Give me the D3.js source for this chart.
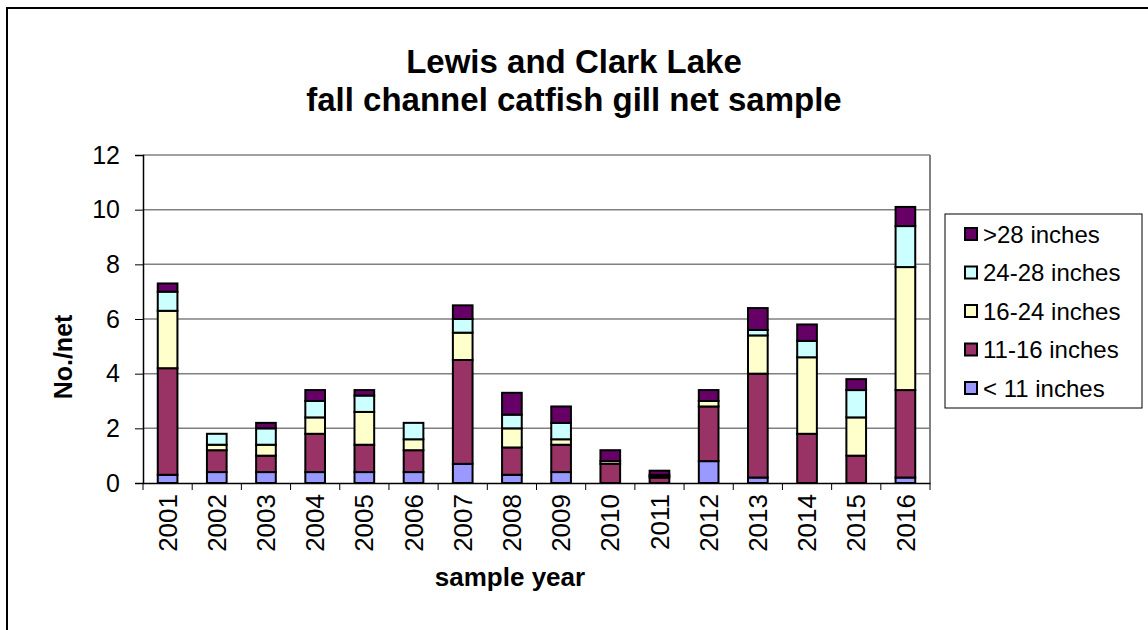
<!DOCTYPE html>
<html><head><meta charset="utf-8">
<script src="https://cdn.jsdelivr.net/npm/d3@7"></script>
<style>body{margin:0;background:#fff}svg{display:block}text{font-family:"Liberation Sans",Arial,sans-serif}</style>
</head><body><svg id="c" width="1148" height="630"></svg>
<script>
const years = ["2001","2002","2003","2004","2005","2006","2007","2008","2009","2010","2011","2012","2013","2014","2015","2016"];
const lt11   = [0.3,0.4,0.4,0.4,0.4,0.4,0.7,0.3,0.4,0,0,0.8,0.2,0,0,0.2];
const s11_16 = [3.9,0.8,0.6,1.4,1.0,0.8,3.8,1.0,1.0,0.7,0.2,2.0,3.8,1.8,1.0,3.2];
const s16_24 = [2.1,0.2,0.4,0.6,1.2,0.4,1.0,0.7,0.2,0.1,0.05,0.2,1.4,2.8,1.4,4.5];
const s24_28 = [0.7,0.4,0.6,0.6,0.6,0.6,0.5,0.5,0.6,0,0.05,0,0.2,0.6,1.0,1.5];
const gt28   = [0.3,0,0.2,0.4,0.2,0,0.5,0.8,0.6,0.4,0.15,0.4,0.8,0.6,0.4,0.7];
const seriesNames = ["< 11 inches","11-16 inches","16-24 inches","24-28 inches",">28 inches"];
const seriesColors = ["#9999FF","#993366","#FFFFCC","#CCFFFF","#660066"];
const yTicks = [0,2,4,6,8,10,12];

const svg = d3.select("#c");
const L = 143, R = 930, T = 155, B = 483;

// outer chart border
svg.append("rect").attr("x",7).attr("y",8).attr("width",1200).attr("height",700)
  .attr("fill","#fff").attr("stroke","#000").attr("stroke-width",2);

const x = d3.scaleBand().domain(years).range([L,R]).paddingInner(0.6).paddingOuter(0.3);
const xb = d3.scaleBand().domain(years).range([L,R]);
const y = d3.scaleLinear().domain([0,12]).range([B,T]);

// gridlines
svg.append("g").selectAll("line").data(yTicks.filter(d=>d>0)).join("line")
  .attr("x1",L).attr("x2",R).attr("y1",d=>y(d)).attr("y2",d=>y(d))
  .attr("stroke","#808080").attr("stroke-width",1.5);
// plot border right
svg.append("line").attr("x1",R).attr("x2",R).attr("y1",T).attr("y2",B).attr("stroke","#808080").attr("stroke-width",2);

const rows = years.map((yr,i)=>({year:yr, s0:lt11[i], s1:s11_16[i], s2:s16_24[i], s3:s24_28[i], s4:gt28[i]}));
const stack = d3.stack().keys(["s0","s1","s2","s3","s4"])(rows);

svg.append("g").selectAll("g").data(stack).join("g")
  .attr("fill",(d,i)=>seriesColors[i])
  .selectAll("rect").data(d=>d.filter(p=>p[1]-p[0]>0)).join("rect")
  .attr("x",d=>x(d.data.year)).attr("width",x.bandwidth())
  .attr("y",d=>y(d[1])).attr("height",d=>y(d[0])-y(d[1]))
  .attr("stroke","#000").attr("stroke-width",2);

// y axis
const yAxis = d3.axisLeft(y).tickValues(yTicks).tickSize(8).tickPadding(15);
const ga = svg.append("g").attr("transform",`translate(${L},0)`).call(yAxis);
ga.select(".domain").attr("stroke","#000").attr("stroke-width",1.5);
ga.selectAll(".tick line").attr("stroke","#000");
ga.selectAll(".tick text").attr("font-size",25).attr("fill","#000").style("font-family","Liberation Sans, Arial, sans-serif");

// x axis
const xAxis = d3.axisBottom(xb).tickSize(0).tickFormat("");
const gx = svg.append("g").attr("transform",`translate(0,${B})`).call(xAxis);
gx.select(".domain").attr("stroke","#000").attr("stroke-width",1.5);
gx.selectAll(".bt").data(years.concat(["end"])).join("line")
  .attr("x1",(d,i)=>L+i*xb.step()).attr("x2",(d,i)=>L+i*xb.step()).attr("y1",0).attr("y2",7).attr("stroke","#000");
svg.append("g").selectAll("text").data(years).join("text")
  .attr("transform",d=>`translate(${xb(d)+xb.bandwidth()/2},494) rotate(-90)`)
  .attr("text-anchor","end").attr("dy","0.35em").attr("font-size",26).text(d=>d);

// titles
svg.append("text").attr("x",574).attr("y",73).attr("text-anchor","middle").attr("font-size",33).attr("font-weight","bold").text("Lewis and Clark Lake");
svg.append("text").attr("x",574).attr("y",111).attr("text-anchor","middle").attr("font-size",33).attr("font-weight","bold").text("fall channel catfish gill net sample");
svg.append("text").attr("x",510).attr("y",586).attr("text-anchor","middle").attr("font-size",26).attr("font-weight","bold").text("sample year");
svg.append("text").attr("transform","translate(72,357) rotate(-90)").attr("text-anchor","middle").attr("font-size",25).attr("font-weight","bold").text("No./net");

// legend
const lg = svg.append("g");
lg.append("rect").attr("x",945).attr("y",214).attr("width",197).attr("height",194).attr("fill","#fff").attr("stroke","#000").attr("stroke-width",1);
const order = [4,3,2,1,0];
order.forEach((si,k)=>{
  const cy = 234 + k*38.5;
  lg.append("rect").attr("x",965).attr("y",cy-6).attr("width",12).attr("height",12).attr("fill",seriesColors[si]).attr("stroke","#000").attr("stroke-width",2);
  lg.append("text").attr("x",983).attr("y",cy).attr("dy","0.36em").attr("font-size",24).text(seriesNames[si]);
});
</script></body></html>
